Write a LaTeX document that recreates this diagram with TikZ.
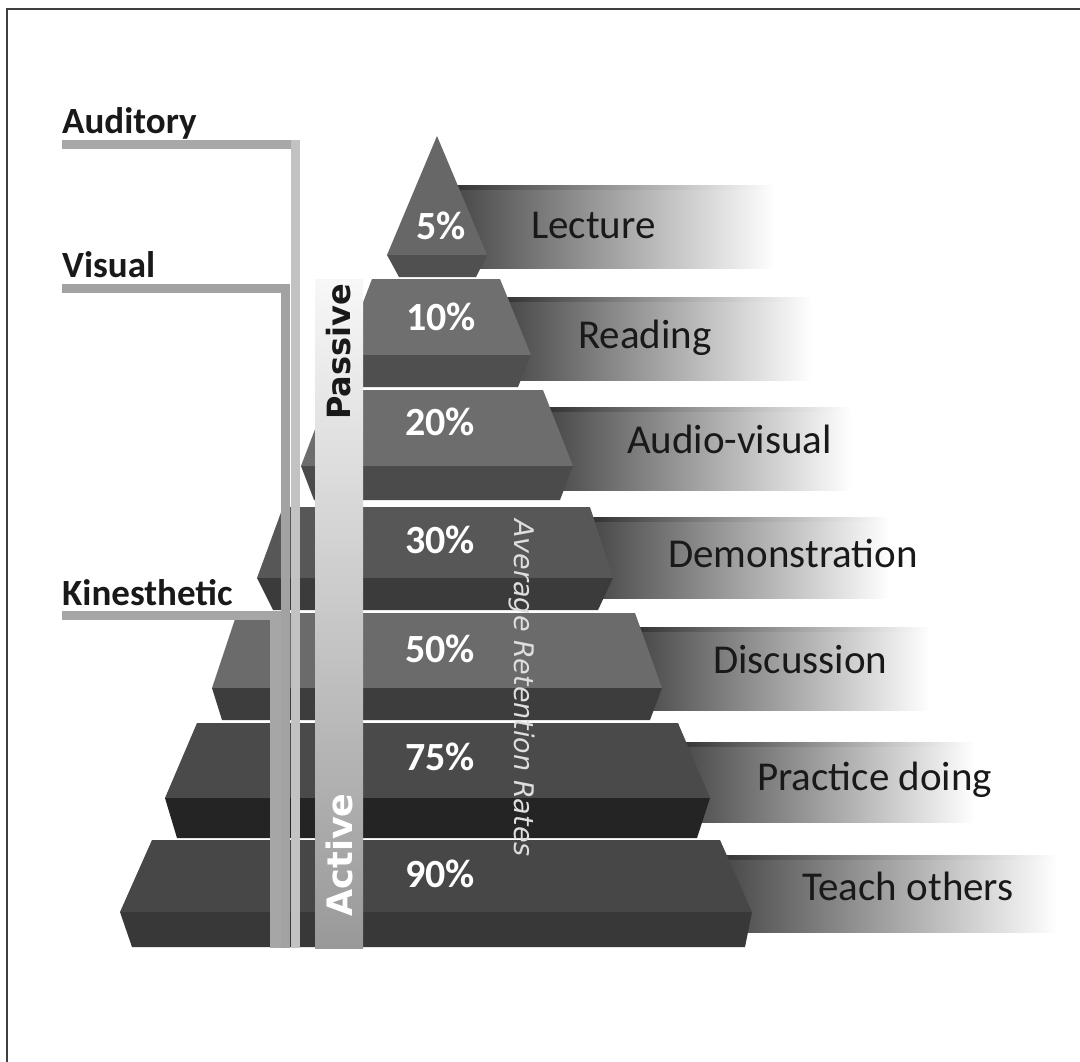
\documentclass[tikz,border=0pt]{standalone}
\usepackage{fontspec}
\setmainfont{Carlito}
\newfontfamily\djv{DejaVu Sans}
\definecolor{tAf}{HTML}{676767}\definecolor{tAb}{HTML}{505050}
\definecolor{tBf}{HTML}{6F6F6F}\definecolor{tBb}{HTML}{4F4F4F}
\definecolor{tCf}{HTML}{6D6D6D}\definecolor{tCb}{HTML}{4B4B4B}
\definecolor{tDf}{HTML}{575757}\definecolor{tDb}{HTML}{3B3B3B}
\definecolor{tEf}{HTML}{6B6B6B}\definecolor{tEb}{HTML}{3D3D3D}
\definecolor{tFf}{HTML}{4A4A4A}\definecolor{tFb}{HTML}{242424}
\definecolor{tGf}{HTML}{474747}\definecolor{tGb}{HTML}{383838}
\definecolor{barA}{HTML}{A8A8A8}\definecolor{barAv}{HTML}{C2C2C2}
\definecolor{barV}{HTML}{A2A2A2}\definecolor{barK}{HTML}{A6A6A6}
\definecolor{ribL}{HTML}{484848}\definecolor{ribE}{HTML}{333333}
\newcommand\myribbon[4]{%
  \shade[left color=ribL, right color=white] (#1,-#2) rectangle (#4,-#3);
  \shade[left color=ribE, right color=white] (#1,-#2) rectangle (#4,-#2-4);}
\begin{document}
\begin{tikzpicture}[x=1pt,y=1pt,
  lbl/.style={anchor=base west, inner sep=0pt, font=\fontsize{41}{41}\selectfont, text=black!90},
  pct/.style={anchor=base, inner sep=0pt, font=\bfseries\fontsize{40}{40}\selectfont, text=white},
  side/.style={anchor=base west, inner sep=0pt, font=\bfseries\fontsize{37}{37}\selectfont, text=black!90}]
\useasboundingbox (0,0) rectangle (1080,-1062);
\fill[white] (0,0) rectangle (1080,-1062);
\draw[line width=2pt, black!75] (7,-1062) -- (7,-9) -- (1080,-9);
% ribbons
\myribbon{455}{186}{268}{775}
\myribbon{505}{297}{380}{812}
\myribbon{548}{407}{490}{852}
\myribbon{592}{517}{598}{890}
\myribbon{637}{627}{710}{930}
\myribbon{680}{742}{822}{975}
\myribbon{722}{855}{932}{1058}
% tiers
\fill[tAf] (437,-136) -- (487,-255) -- (387,-255) -- cycle;
\fill[tAb] (387,-255) -- (487,-255) -- (476,-277) -- (399,-277) -- cycle;
\fill[tBf] (372,-279) -- (500,-279) -- (531,-355) -- (343,-355) -- cycle;
\fill[tBb] (343,-355) -- (531,-355) -- (518,-387) -- (356,-387) -- cycle;
\fill[tCf] (330,-390) -- (543,-390) -- (573,-466) -- (301,-466) -- cycle;
\fill[tCb] (301,-466) -- (573,-466) -- (560,-500) -- (314,-500) -- cycle;
\fill[tDf] (283,-507) -- (590,-507) -- (613,-578) -- (257,-578) -- cycle;
\fill[tDb] (257,-578) -- (613,-578) -- (598,-610) -- (273,-610) -- cycle;
\fill[tEf] (237,-613) -- (635,-613) -- (662,-688) -- (212,-688) -- cycle;
\fill[tEb] (212,-688) -- (662,-688) -- (650,-720) -- (222,-720) -- cycle;
\fill[tFf] (197,-723) -- (678,-723) -- (710,-798) -- (165,-798) -- cycle;
\fill[tFb] (165,-798) -- (710,-798) -- (697,-838) -- (177,-838) -- cycle;
\fill[tGf] (152,-840) -- (720,-840) -- (752,-912) -- (120,-912) -- cycle;
\fill[tGb] (120,-912) -- (752,-912) -- (745,-947) -- (132,-947) -- cycle;
% passive / active bar
\shade[top color=black!3, middle color=black!11, bottom color=black!40] (315,-279) rectangle (363,-948);
% left learning-style bars
\fill[barA] (62,-140) rectangle (300,-149);
\fill[barAv] (291,-140) rectangle (300,-948);
\fill[barV] (62,-284) rectangle (290,-293);
\fill[barV] (281,-284) rectangle (290,-948);
\fill[barK] (62,-611) rectangle (280,-620);
\fill[barK] (270,-611) rectangle (281,-948);
% side labels
\node[side] (aud) at (62,-134) {Auditory};
\node[side] (vis) at (62,-277) {Visual};
\node[side] (kin) at (62,-605) {Kinesthetic};
% percentages
\node[pct] (p1) at (441,-240) {5\%};
\node[pct] (p2) at (441,-330) {10\%};
\node[pct] (p3) at (440,-435) {20\%};
\node[pct] (p4) at (440,-553) {30\%};
\node[pct] (p5) at (440,-662) {50\%};
\node[pct] (p6) at (440,-770) {75\%};
\node[pct] (p7) at (440,-887) {90\%};
% activity labels
\node[lbl] (l1) at (531,-238) {Lecture};
\node[lbl] (l2) at (578,-348) {Reading};
\node[lbl] (l3) at (627,-453) {Audio-visual};
\node[lbl] (l4) at (668,-567) {Demonstration};
\node[lbl] (l5) at (713,-673) {Discussion};
\node[lbl] (l6) at (757,-790) {Practice doing};
\node[lbl] (l7) at (802,-900) {Teach others};
% rotated labels
\node[rotate=90, inner sep=0pt, font=\djv\bfseries\fontsize{32}{32}\selectfont, text=black!90] (pas) at (339,-352) {Passive};
\node[rotate=90, inner sep=0pt, font=\djv\bfseries\fontsize{35}{35}\selectfont, text=white] (act) at (339,-855) {Active};
\node[rotate=-90, inner sep=0pt, font=\djv\itshape\fontsize{27}{27}\selectfont, text=black!13] (arr) at (522,-688) {Average Retention Rates};
\end{tikzpicture}
\end{document}
